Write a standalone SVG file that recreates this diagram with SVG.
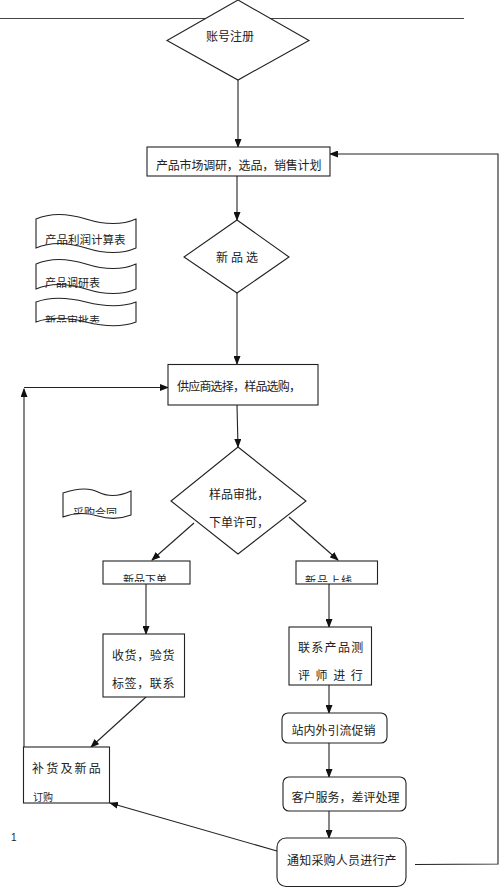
<svg xmlns="http://www.w3.org/2000/svg" width="500" height="888" viewBox="0 0 500 888">
<style>
.s{fill:#fff;stroke:#222;stroke-width:1.1}
.c{fill:none;stroke:#222;stroke-width:1.1}
.t{font-family:"Noto Sans CJK SC","Noto Sans",sans-serif;font-size:12px;fill:#222}
.m{text-anchor:middle}
.sm{font-size:11px}
</style>
<defs>
<marker id="a" markerWidth="9" markerHeight="7" refX="8" refY="3.5" orient="auto" markerUnits="userSpaceOnUse">
<path d="M0,0 L9,3.5 L0,7 z" fill="#111"/>
</marker>
<clipPath id="k1"><rect x="30" y="300" width="110" height="22.5"/></clipPath>
<clipPath id="k2"><rect x="60" y="490" width="80" height="24"/></clipPath>
<clipPath id="k3"><rect x="100" y="560" width="95" height="22"/></clipPath>
<clipPath id="k4"><rect x="290" y="560" width="95" height="22"/></clipPath>
</defs>
<rect width="500" height="888" fill="#fff"/>
<line x1="0" y1="18.5" x2="464" y2="18.5" stroke="#444" stroke-width="1.2"/>
<g id="connectors">
<line class="c" x1="238" y1="80" x2="238" y2="147" marker-end="url(#a)"/>
<line class="c" x1="237" y1="176" x2="237" y2="220" marker-end="url(#a)"/>
<line class="c" x1="237" y1="293" x2="237" y2="364" marker-end="url(#a)"/>
<line class="c" x1="237" y1="405" x2="238" y2="447" marker-end="url(#a)"/>
<line class="c" x1="194" y1="523" x2="152" y2="560" marker-end="url(#a)"/>
<line class="c" x1="289" y1="517" x2="338" y2="560" marker-end="url(#a)"/>
<line class="c" x1="146" y1="584" x2="146" y2="634" marker-end="url(#a)"/>
<line class="c" x1="329" y1="584" x2="329" y2="627" marker-end="url(#a)"/>
<line class="c" x1="146" y1="697" x2="91" y2="747" marker-end="url(#a)"/>
<line class="c" x1="329" y1="685" x2="329" y2="713" marker-end="url(#a)"/>
<line class="c" x1="329" y1="743" x2="329" y2="777" marker-end="url(#a)"/>
<line class="c" x1="329" y1="811" x2="329" y2="838" marker-end="url(#a)"/>
<line class="c" x1="277" y1="851" x2="110" y2="803" marker-end="url(#a)"/>
<polyline class="c" points="415,864.5 498,864 498,154 330,154" marker-end="url(#a)"/>
<line class="c" x1="24" y1="747" x2="24" y2="389" marker-end="url(#a)"/>
<line class="c" x1="24" y1="387.5" x2="168" y2="387.5" marker-end="url(#a)"/>
</g>
<g id="n-register">
<polygon class="s" points="238,0 309,40.5 238,80 167,40.5"/>
<text class="t m" x="230" y="41">账号注册</text>
</g>
<g id="n-research">
<rect class="s" x="147" y="147" width="183" height="29"/>
<text class="t" x="156" y="169.5" letter-spacing="-0.2">产品市场调研，选品，销售计划</text>
</g>
<g id="n-select">
<polygon class="s" points="237,220 289,257 237,293 184,257"/>
<text class="t" x="216" y="261.5" letter-spacing="3">新品选</text>
</g>
<g id="d-profit">
<path class="s" d="M36,219 C52,212 70,214 86,219 S120,226 136,219 V248 C120,255 102,253 86,248 S52,241 36,248 Z"/>
<text class="t" x="45" y="243.5" style="font-size:11.5px">产品利润计算表</text>
</g>
<g id="d-survey">
<path class="s" d="M36,264 C52,257 70,259 86,264 S120,271 136,264 V289 C120,296 102,294 86,289 S52,282 36,289 Z"/>
<text class="t sm" x="45" y="287">产品调研表</text>
</g>
<g id="d-approve">
<path class="s" d="M36,302 C52,296 70,298 86,302 S120,308 136,302 V322 C120,328 102,326 86,322 S52,316 36,322 Z"/>
<text class="t sm" x="45" y="325" clip-path="url(#k1)">新品审批表</text>
</g>
<g id="n-supplier">
<rect class="s" x="168" y="364.5" width="150" height="40.5"/>
<text class="t" x="177" y="391" letter-spacing="-0.8">供应商选择，样品选购，</text>
</g>
<g id="n-sample">
<polygon class="s" points="238,447 306,501 238,554 171,501"/>
<text class="t" x="209" y="498.5">样品审批，</text>
<text class="t" x="209" y="526.5">下单许可，</text>
</g>
<g id="d-contract">
<path class="s" d="M63,493 C78,488 90,488 98,492 S118,497 131,491 V515 C118,520 108,519 98,516 S76,512 63,517 Z"/>
<text class="t sm" x="73" y="517" clip-path="url(#k2)">采购合同</text>
</g>
<g id="n-order">
<rect class="s" x="103" y="561" width="87" height="23"/>
<text class="t sm" x="123" y="584" clip-path="url(#k3)">新品下单</text>
</g>
<g id="n-launch">
<rect class="s" x="296" y="561" width="81.5" height="23"/>
<text class="t sm" x="305" y="585" letter-spacing="1" clip-path="url(#k4)">新品上线</text>
</g>
<g id="n-receive">
<rect class="s" x="103" y="634" width="81.5" height="63"/>
<text class="t" x="112" y="659.5" letter-spacing="0.6">收货，验货</text>
<text class="t" x="112" y="687.5" letter-spacing="0.6">标签，联系</text>
</g>
<g id="n-test">
<rect class="s" x="289" y="627" width="82.5" height="58"/>
<text class="t" x="298" y="651.5" letter-spacing="1.3">联系产品测</text>
<text class="t" x="298" y="679.5" letter-spacing="5.6">评师进行</text>
</g>
<g id="n-promo">
<rect class="s" x="282" y="713" width="105" height="30" rx="6"/>
<text class="t" x="291.5" y="734.5">站内外引流促销</text>
</g>
<g id="n-service">
<rect class="s" x="283" y="777" width="123" height="34" rx="6"/>
<text class="t" x="291.5" y="801.8">客户服务，差评处理</text>
</g>
<g id="n-notify">
<rect class="s" x="277" y="838" width="129" height="48.5" rx="9"/>
<text class="t" x="287" y="864.5" letter-spacing="0.2">通知采购人员进行产</text>
</g>
<g id="n-restock">
<rect class="s" x="23.5" y="747" width="86" height="56"/>
<text class="t" x="32" y="772.5" letter-spacing="2.2">补货及新品</text>
<text class="t" x="33" y="801" style="font-size:10px">订购</text>
</g>
<text x="11" y="841" style="font-family:'Liberation Sans',sans-serif;font-size:10px;fill:#222">1</text>
</svg>
